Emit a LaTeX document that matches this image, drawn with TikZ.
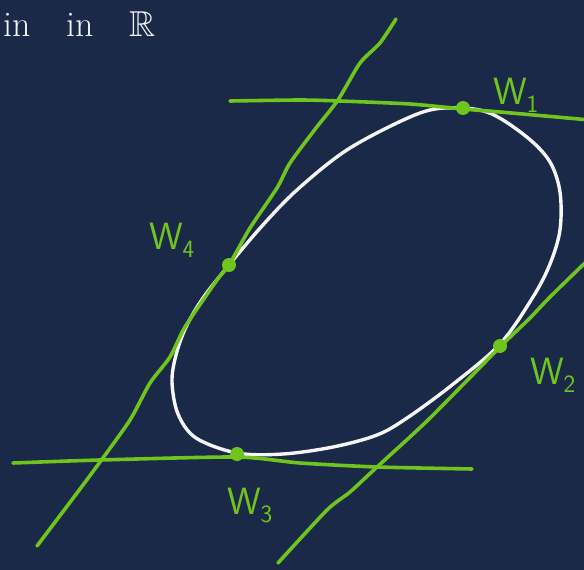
\documentclass[tikz,border=0pt]{standalone}
\usepackage{amssymb}
\definecolor{bg}{RGB}{27,41,72}
\definecolor{lime}{RGB}{112,196,30}
\definecolor{chalk}{RGB}{245,245,245}
\begin{document}
\begin{tikzpicture}[x=1pt,y=-1pt,
  tline/.style={lime,line width=3.6pt,line cap=round,line join=round},
  curve/.style={chalk,line width=3.4pt},
  tdot/.style={circle,fill=lime,inner sep=0pt,minimum size=14pt},
  wlab/.style={lime,font=\fontsize{38}{40}\selectfont\sffamily,inner sep=0pt}]
\fill[bg] (0,0) rectangle (584,570);
\useasboundingbox (0,0) rectangle (584,570);
\begin{scope}
\clip (0,0) rectangle (584,570);
% heading text
\node[chalk,anchor=base west,inner sep=0pt,font=\fontsize{36}{38}\selectfont] (head) at (3,36) {in\hspace{1em}in\hspace{1em}$\mathbb{R}$};
% ellipse
\draw[curve] plot[smooth cycle,tension=0.55] coordinates {
 (460,108) (492,114) (528,138) (550,162) (560,192) (560,230) (550,264) (533,297)
 (500,344) (452,385) (407,418) (377,435) (333,447) (283,454) (237,453) (196,438)
 (178,414) (172,382) (176,355) (186,327) (203,298) (229,265) (262,226) (298,189)
 (350,148) (420,113)};
% tangent lines
\draw[tline] plot[smooth,tension=0.4] coordinates {(230,101) (300,100) (340,101) (410,104) (463,109) (500,112) (590,120)};
\draw[tline] plot[smooth,tension=0.4] coordinates {(278,563) (327,510) (350,492) (377,467) (428,420) (500,347) (530,318) (550,297) (590,258)};
\draw[tline] plot[smooth,tension=0.4] coordinates {(13,463) (100,460) (237,457) (300,463) (377,467) (472,469)};
\draw[tline] plot[smooth,tension=0.4] coordinates {(396,19) (380,43) (360,63) (338,100) (316,128) (290,163) (277,188) (250,228) (229,265) (217,280) (185,327) (170,357) (150,383) (130,420) (100,462) (77,493) (37,546)};
\end{scope}
% tangent points
\node[tdot] (w1) at (463,108) {};
\node[tdot] (w2) at (500,346) {};
\node[tdot] (w3) at (237,454) {};
\node[tdot] (w4) at (229,265) {};
% labels
\node[wlab] (l1) at (516,95) {W$_{\mathsf{1}}$};
\node[wlab] (l2) at (553,375) {W$_{\mathsf{2}}$};
\node[wlab] (l3) at (250,505) {W$_{\mathsf{3}}$};
\node[wlab] (l4) at (172,240) {W$_{\mathsf{4}}$};
\end{tikzpicture}
\end{document}
